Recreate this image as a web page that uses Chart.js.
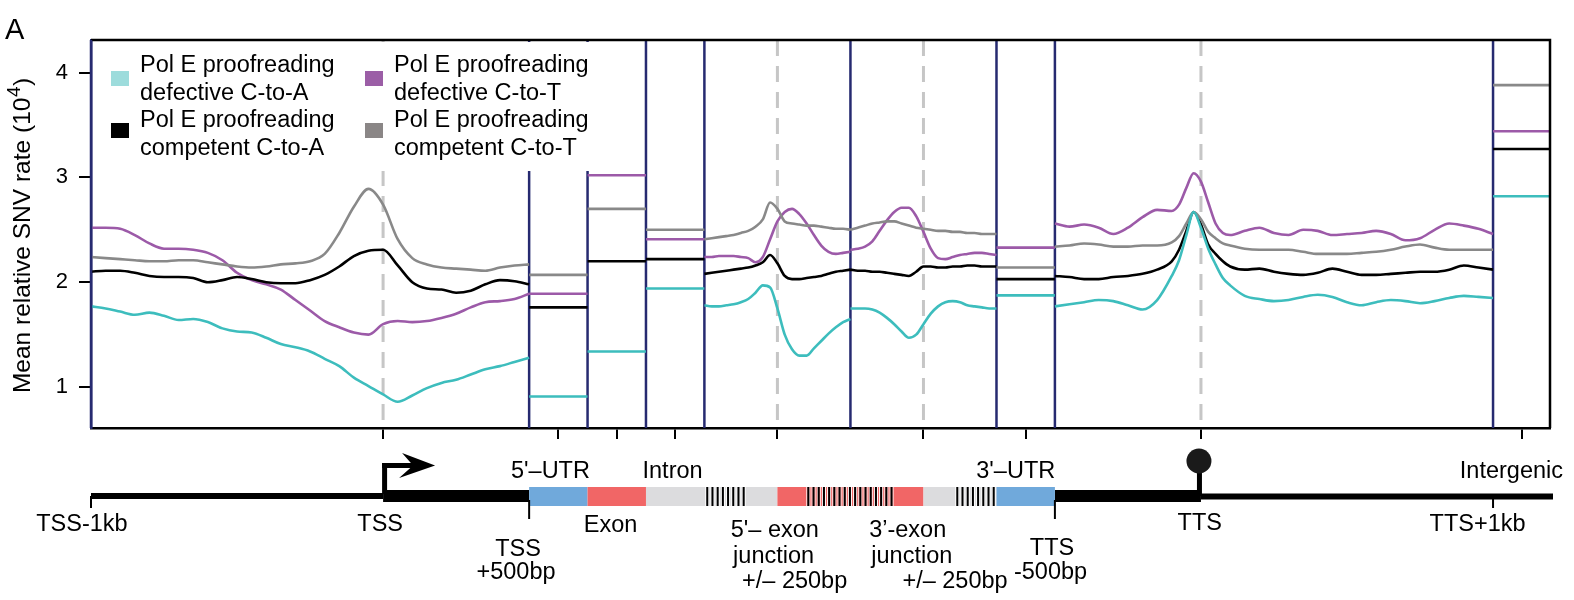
<!DOCTYPE html>
<html>
<head>
<meta charset="utf-8">
<script src="https://cdn.jsdelivr.net/npm/chart.js@4.4.1/dist/chart.umd.min.js"></script>
<style>
  html, body { margin: 0; padding: 0; background: #fff; }
</style>
</head>
<body>
<canvas id="myChart" width="1574" height="600"></canvas>
<script>
// x positions are in "region units": TSS-1kb = 0, TSS = 1000, TSS+500bp = 1500,
// 5'UTR / exon / intron boxes 200 each, exon junctions 500 each, 3'UTR 200,
// TTS-500bp = 3300, TTS = 3800, TTS+1kb = 4800, intergenic to 4995

// TSS-1kb .. TSS+500bp profile
const tssX = [0, 50, 100, 150, 200, 250, 300, 350, 400, 450, 500, 550, 600, 650, 700, 750,
              800, 850, 900, 950, 1000, 1050, 1100, 1150, 1200, 1250, 1300, 1350, 1400, 1450, 1500];
const tssCyan   = [1.77, 1.75, 1.72, 1.69, 1.71, 1.68, 1.64, 1.65, 1.62, 1.56, 1.53, 1.52, 1.47, 1.41, 1.38, 1.34,
                   1.27, 1.20, 1.09, 1.01, 0.93, 0.86, 0.92, 0.99, 1.04, 1.07, 1.12, 1.17, 1.20, 1.24, 1.28];
const tssPurple = [2.52, 2.52, 2.51, 2.45, 2.37, 2.32, 2.32, 2.31, 2.28, 2.21, 2.09, 2.02, 1.98, 1.93, 1.83, 1.73,
                   1.63, 1.57, 1.52, 1.50, 1.60, 1.63, 1.62, 1.63, 1.66, 1.70, 1.76, 1.81, 1.82, 1.84, 1.89];
const tssBlack  = [2.10, 2.11, 2.11, 2.09, 2.06, 2.05, 2.05, 2.04, 2.00, 2.02, 2.05, 2.03, 2.00, 1.99, 1.99, 2.02,
                   2.07, 2.15, 2.25, 2.30, 2.31, 2.16, 2.00, 1.94, 1.93, 1.90, 1.92, 1.98, 2.02, 2.01, 1.98];
const tssGray   = [2.24, 2.23, 2.22, 2.21, 2.20, 2.20, 2.21, 2.21, 2.19, 2.17, 2.15, 2.14, 2.15, 2.17, 2.18, 2.20,
                   2.27, 2.47, 2.72, 2.89, 2.74, 2.41, 2.23, 2.17, 2.14, 2.13, 2.12, 2.11, 2.14, 2.16, 2.17];

// 5'-exon junction +/- 250bp
const j5X = [2100, 2125, 2150, 2175, 2200, 2225, 2250, 2275, 2300, 2325, 2350,
             2375, 2400, 2425, 2450, 2475, 2500, 2525, 2550, 2575, 2600];
const j5Cyan   = [1.78, 1.77, 1.77, 1.78, 1.79, 1.81, 1.84, 1.90, 1.97, 1.95, 1.75, 1.50, 1.36, 1.30, 1.30, 1.37, 1.44, 1.51, 1.57, 1.62, 1.65];
const j5Purple = [2.24, 2.24, 2.25, 2.25, 2.25, 2.24, 2.23, 2.19, 2.24, 2.41, 2.58, 2.67, 2.70, 2.65, 2.56, 2.45, 2.35, 2.29, 2.27, 2.28, 2.29];
const j5Black  = [2.08, 2.09, 2.10, 2.11, 2.12, 2.13, 2.14, 2.16, 2.19, 2.26, 2.18, 2.06, 2.03, 2.03, 2.04, 2.05, 2.06, 2.08, 2.10, 2.11, 2.12];
const j5Gray   = [2.41, 2.42, 2.43, 2.44, 2.45, 2.47, 2.49, 2.53, 2.60, 2.76, 2.70, 2.58, 2.56, 2.55, 2.54, 2.54, 2.53, 2.52, 2.51, 2.51, 2.50];

// 3'-exon junction +/- 250bp
const j3X = [2600, 2625, 2650, 2675, 2700, 2725, 2750, 2775, 2800, 2825, 2850,
             2875, 2900, 2925, 2950, 2975, 3000, 3025, 3050, 3075, 3100];
const j3Cyan   = [1.75, 1.75, 1.75, 1.74, 1.71, 1.66, 1.60, 1.53, 1.47, 1.50, 1.60, 1.70, 1.77, 1.81, 1.82, 1.81, 1.78, 1.77, 1.76, 1.75, 1.75];
const j3Purple = [2.31, 2.32, 2.34, 2.39, 2.49, 2.59, 2.67, 2.71, 2.71, 2.63, 2.48, 2.32, 2.23, 2.22, 2.24, 2.26, 2.27, 2.28, 2.28, 2.27, 2.26];
const j3Black  = [2.12, 2.11, 2.11, 2.10, 2.10, 2.09, 2.08, 2.07, 2.06, 2.10, 2.15, 2.15, 2.14, 2.14, 2.15, 2.15, 2.16, 2.16, 2.15, 2.15, 2.15];
const j3Gray   = [2.50, 2.52, 2.54, 2.56, 2.57, 2.58, 2.58, 2.56, 2.54, 2.52, 2.51, 2.50, 2.49, 2.49, 2.48, 2.48, 2.47, 2.47, 2.46, 2.46, 2.46];

// TTS-500bp .. TTS+1kb profile
const ttsX = [3300, 3350, 3400, 3450, 3500, 3550, 3600, 3650, 3700, 3725, 3750, 3775, 3800, 3825, 3850, 3875, 3900,
              3950, 4000, 4050, 4100, 4150, 4200, 4250, 4300, 4350, 4400, 4450, 4500, 4550, 4600, 4650, 4700, 4750, 4800];
const ttsCyan   = [1.77, 1.79, 1.81, 1.83, 1.82, 1.78, 1.74, 1.83, 2.06, 2.21, 2.45, 2.67, 2.52, 2.32, 2.17, 2.04, 1.97,
                   1.87, 1.84, 1.82, 1.83, 1.86, 1.88, 1.86, 1.81, 1.78, 1.81, 1.83, 1.82, 1.80, 1.82, 1.85, 1.87, 1.86, 1.85];
const ttsPurple = [2.56, 2.53, 2.55, 2.52, 2.46, 2.52, 2.62, 2.69, 2.68, 2.74, 2.90, 3.04, 2.96, 2.76, 2.56, 2.47, 2.45,
                   2.49, 2.52, 2.47, 2.45, 2.50, 2.49, 2.45, 2.46, 2.47, 2.49, 2.46, 2.40, 2.42, 2.50, 2.56, 2.54, 2.51, 2.46];
const ttsBlack  = [2.06, 2.05, 2.03, 2.03, 2.05, 2.06, 2.08, 2.12, 2.20, 2.31, 2.49, 2.67, 2.55, 2.36, 2.27, 2.20, 2.15,
                   2.12, 2.13, 2.10, 2.08, 2.07, 2.09, 2.13, 2.10, 2.07, 2.07, 2.08, 2.09, 2.10, 2.10, 2.12, 2.16, 2.14, 2.12];
const ttsGray   = [2.34, 2.35, 2.37, 2.36, 2.34, 2.34, 2.35, 2.35, 2.38, 2.44, 2.56, 2.67, 2.60, 2.48, 2.42, 2.37, 2.35,
                   2.32, 2.31, 2.31, 2.31, 2.29, 2.27, 2.27, 2.27, 2.28, 2.29, 2.31, 2.34, 2.36, 2.33, 2.31, 2.31, 2.31, 2.31];

// flat boxes: 5'UTR, exon, intron, 3'UTR, intergenic
const boxStart = [1500, 1700, 1900, 3100, 4800];
const boxEnd   = [1700, 1900, 2100, 3300, 4995];
const boxCyan   = [0.91, 1.34, 1.94, 1.875, 2.82];
const boxPurple = [1.89, 3.02, 2.41, 2.33, 3.44];
const boxBlack  = [1.76, 2.20, 2.22, 2.03, 3.27];
const boxGray   = [2.07, 2.70, 2.50, 2.14, 3.88];

// axes
const xMin = 0, xMax = 4995;
const yMin = 0.61, yMax = 4.31;
const yTicks = [1, 2, 3, 4];
const xTicks = [1000, 1600, 1800, 2000, 2350, 2850, 3200, 3800, 4898];
const regionLines = [1500, 1700, 1900, 2100, 2600, 3100, 3300, 4800];
const centerLines = [1000, 2350, 2850, 3800];

const colCyan = '#3dbdbd', colPurple = '#9c5aa8', colBlack = '#000000', colGray = '#898989';
const navy = '#262a70';
const FONT = '"Liberation Sans", Arial, Helvetica, sans-serif';

// chain the segments together, null between them so lines break
function buildSeries(tss, box, j5, j3, tts) {
    const pts = [];
    const addCurve = (xs, ys) => {
        xs.forEach((x, i) => pts.push({x: x, y: ys[i]}));
        pts.push({x: xs[xs.length - 1], y: null});
    };
    const addBox = (i) => {
        pts.push({x: boxStart[i], y: box[i]}, {x: boxEnd[i], y: box[i]}, {x: boxEnd[i], y: null});
    };
    addCurve(tssX, tss);
    addBox(0); addBox(1); addBox(2);
    addCurve(j5X, j5);
    addCurve(j3X, j3);
    addBox(3);
    addCurve(ttsX, tts);
    addBox(4);
    return pts;
}

// guide lines behind the curves
const guideLines = {
    id: 'guideLines',
    beforeDatasetsDraw(chart) {
        const {ctx, chartArea: a, scales: {x}} = chart;
        ctx.save();
        ctx.strokeStyle = '#c6c6c6';
        ctx.lineWidth = 3;
        ctx.setLineDash([16, 10]);
        centerLines.forEach(v => {
            const px = x.getPixelForValue(v);
            ctx.beginPath(); ctx.moveTo(px, a.top); ctx.lineTo(px, a.bottom); ctx.stroke();
        });
        ctx.setLineDash([]);
        ctx.strokeStyle = navy;
        ctx.lineWidth = 2.5;
        regionLines.forEach(v => {
            const px = x.getPixelForValue(v);
            ctx.beginPath(); ctx.moveTo(px, a.top); ctx.lineTo(px, a.bottom); ctx.stroke();
        });
        ctx.restore();
    }
};

// legend, frame, axis title, panel letter and the gene model underneath
const extras = {
    id: 'extras',
    afterDraw(chart) {
        const {ctx, chartArea: a, scales: {x}} = chart;
        const px = v => x.getPixelForValue(v);
        ctx.save();

        // legend box (white, hides guide lines)
        ctx.fillStyle = '#fff';
        ctx.fillRect(a.left + 2, a.top + 2, 512, 129);
        const legendItems = [
            {color: '#9ddcdc', lines: ['Pol E proofreading', 'defective C-to-A'], sx: 111, sy: 71, tx: 140, ty: 72},
            {color: '#9b5ea6', lines: ['Pol E proofreading', 'defective C-to-T'], sx: 365, sy: 71, tx: 394, ty: 72},
            {color: '#000000', lines: ['Pol E proofreading', 'competent C-to-A'], sx: 111, sy: 123, tx: 140, ty: 127},
            {color: '#8a8686', lines: ['Pol E proofreading', 'competent C-to-T'], sx: 365, sy: 123, tx: 394, ty: 127}
        ];
        ctx.font = '23.5px ' + FONT;
        ctx.textAlign = 'left';
        ctx.textBaseline = 'alphabetic';
        legendItems.forEach(it => {
            ctx.fillStyle = it.color;
            ctx.fillRect(it.sx, it.sy, 18, 15);
            ctx.fillStyle = '#000';
            ctx.fillText(it.lines[0], it.tx, it.ty);
            ctx.fillText(it.lines[1], it.tx, it.ty + 28);
        });

        // frame top + right
        ctx.strokeStyle = '#000';
        ctx.lineWidth = 2.5;
        ctx.beginPath();
        ctx.moveTo(a.left, a.top); ctx.lineTo(a.right, a.top); ctx.lineTo(a.right, a.bottom);
        ctx.stroke();
        ctx.strokeStyle = navy;
        ctx.beginPath(); ctx.moveTo(a.left, a.top); ctx.lineTo(a.left, a.bottom); ctx.stroke();

        // y axis title with superscript
        ctx.save();
        ctx.translate(23, 236);
        ctx.rotate(-Math.PI / 2);
        ctx.fillStyle = '#000';
        ctx.textBaseline = 'middle';
        ctx.textAlign = 'left';
        const mainTxt = 'Mean relative SNV rate (10', supTxt = '4', endTxt = ')';
        ctx.font = '24.5px ' + FONT;
        const w1 = ctx.measureText(mainTxt).width, w3 = ctx.measureText(endTxt).width;
        ctx.font = '19px ' + FONT;
        const w2 = ctx.measureText(supTxt).width;
        let sx = -(w1 + w2 + w3) / 2;
        ctx.font = '24.5px ' + FONT;
        ctx.fillText(mainTxt, sx, 0);
        ctx.font = '19px ' + FONT;
        ctx.fillText(supTxt, sx + w1 + 0.5, -8);
        ctx.font = '24.5px ' + FONT;
        ctx.fillText(endTxt, sx + w1 + w2 + 1, 0);
        ctx.restore();

        // panel letter
        ctx.fillStyle = '#000';
        ctx.font = '29px ' + FONT;
        ctx.textAlign = 'left';
        ctx.fillText('A', 5, 39);

        // gene model
        const lineMid = 496;
        ctx.fillStyle = '#000';
        ctx.fillRect(px(0), lineMid - 3, px(1000) - px(0), 6);
        ctx.fillRect(px(1000), lineMid - 6, px(1500) - px(1000), 12);
        ctx.fillRect(px(3300), lineMid - 6, px(3800) - px(3300), 12);
        ctx.fillRect(px(3800), lineMid - 2.5, a.right + 3 - px(3800), 6);

        const blue = '#70a9db', red = '#f16666', light = '#dcdcde';
        const parts = [
            [1500, 1700, blue], [1700, 1900, red], [1900, 2350, light],
            [2350, 2850, red], [2850, 3100, light], [3100, 3300, blue]
        ];
        parts.forEach(p => {
            ctx.fillStyle = p[2];
            ctx.fillRect(px(p[0]), 487, px(p[1]) - px(p[0]), 19);
        });
        const hatches = [[2103, 2236], [2449, 2747], [2959, 3092]];
        hatches.forEach(h => {
            const x0 = px(h[0]), x1 = px(h[1]);
            for (let xx = x0; xx < x1 - 2; xx += 5.2) {
                ctx.fillStyle = '#fff';
                ctx.fillRect(xx, 487, 1, 19);
                ctx.fillRect(xx + 3, 487, 1, 19);
                ctx.fillStyle = '#000';
                ctx.fillRect(xx + 1, 487, 2, 19);
            }
        });

        // small ticks on the gene line
        ctx.strokeStyle = '#000';
        ctx.lineWidth = 2;
        [[0, 496, 508], [1500, 500, 519], [3300, 500, 519], [4800, 497, 508]].forEach(t => {
            ctx.beginPath(); ctx.moveTo(px(t[0]), t[1]); ctx.lineTo(px(t[0]), t[2]); ctx.stroke();
        });

        // TSS arrow
        const tx = px(1000);
        ctx.fillStyle = '#000';
        ctx.fillRect(tx - 1, 463, 5, 31);
        ctx.fillRect(tx - 1, 463, 31, 5);
        ctx.beginPath();
        ctx.moveTo(tx + 52, 465.5);
        ctx.lineTo(tx + 19, 453);
        ctx.lineTo(tx + 30, 465.5);
        ctx.lineTo(tx + 16, 478);
        ctx.closePath();
        ctx.fill();

        // TTS lollipop
        const ex = px(3800) - 2;
        ctx.fillRect(ex - 2, 470, 5, 26);
        ctx.fillStyle = '#1a1a1a';
        ctx.beginPath(); ctx.arc(ex, 461, 12.5, 0, Math.PI * 2); ctx.fill();

        // labels
        const labels = [
            ["5'\u2013UTR", 1573, 478], ['Intron', 1991, 478], ["3'\u2013UTR", 3166, 478], ['Intergenic', 4863, 478],
            ['TSS-1kb', -31, 531], ['TSS', 990, 531], ['Exon', 1779, 532], ['TTS', 3796, 530], ['TTS+1kb', 4747, 531],
            ['TSS', 1462, 556], ['+500bp', 1455, 579], ['TTS', 3290, 555], ['-500bp', 3285, 579],
            ["5'\u2013 exon", 2341, 537], ['junction', 2337, 563], ['+/\u2013 250bp', 2409, 588],
            ['3\u2019-exon', 2796, 537], ['junction', 2810, 563], ['+/\u2013 250bp', 2958, 588]
        ];
        ctx.fillStyle = '#000';
        ctx.font = '23.5px ' + FONT;
        ctx.textAlign = 'center';
        labels.forEach(l => ctx.fillText(l[0], px(l[1]), l[2]));
        ctx.restore();
    }
};

const ctx = document.getElementById('myChart').getContext('2d');
const myChart = new Chart(ctx, {
    type: 'line',
    data: {
        datasets: [
            {label: 'Pol E proofreading defective C-to-A', data: buildSeries(tssCyan, boxCyan, j5Cyan, j3Cyan, ttsCyan), borderColor: colCyan},
            {label: 'Pol E proofreading competent C-to-T', data: buildSeries(tssGray, boxGray, j5Gray, j3Gray, ttsGray), borderColor: colGray},
            {label: 'Pol E proofreading competent C-to-A', data: buildSeries(tssBlack, boxBlack, j5Black, j3Black, ttsBlack), borderColor: colBlack},
            {label: 'Pol E proofreading defective C-to-T', data: buildSeries(tssPurple, boxPurple, j5Purple, j3Purple, ttsPurple), borderColor: colPurple}
        ]
    },
    options: {
        responsive: false,
        animation: false,
        devicePixelRatio: 1,
        spanGaps: false,
        datasets: {
            line: {
                borderWidth: 2.6,
                pointRadius: 0,
                fill: false,
                cubicInterpolationMode: 'monotone'
            }
        },
        layout: {padding: {left: 5, top: 40, right: 24, bottom: 0}},
        plugins: {
            legend: {display: false},
            tooltip: {enabled: false}
        },
        scales: {
            x: {
                type: 'linear',
                min: xMin,
                max: xMax,
                afterBuildTicks: (scale) => { scale.ticks = xTicks.map(v => ({value: v})); },
                afterFit: (scale) => { scale.height = 172; },
                ticks: {display: false},
                grid: {drawOnChartArea: false, drawTicks: true, tickLength: 11, color: '#000', lineWidth: 2},
                border: {display: true, color: '#000', width: 2.5}
            },
            y: {
                min: yMin,
                max: yMax,
                afterBuildTicks: (scale) => { scale.ticks = yTicks.map(v => ({value: v})); },
                afterFit: (scale) => { scale.width = 86; },
                ticks: {color: '#000', padding: 11, font: {family: FONT, size: 22}},
                grid: {drawOnChartArea: false, drawTicks: true, tickLength: 12, color: '#000', lineWidth: 2},
                border: {display: true, color: navy, width: 2.5},
                title: {display: false}
            }
        }
    },
    plugins: [guideLines, extras]
});
</script>
</body>
</html>
